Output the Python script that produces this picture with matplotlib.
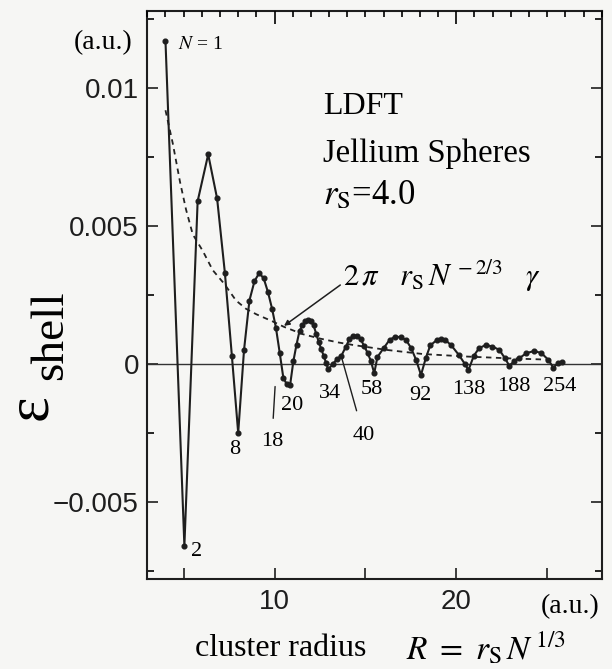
import matplotlib.pyplot as plt
import numpy as np
from matplotlib.ticker import FixedLocator, MultipleLocator, NullFormatter

plt.rcParams['font.family'] = 'Liberation Serif'
plt.rcParams['mathtext.fontset'] = 'stix'

rs = 4.0

# electron number N and shell energy
n_vals = [1, 2, 3, 4, 5, 6, 7, 8, 9, 10, 11, 12, 13, 14, 15, 16, 17, 18, 19, 20,
          21, 22, 23, 24, 25, 26, 27, 28, 29, 30, 31, 32, 33, 34,
          36, 38, 40, 42, 44, 46, 48, 50, 52, 54, 56, 58,
          60, 64, 68, 72, 76, 80, 84, 88, 92,
          96, 100, 106, 110, 114, 120, 128, 134, 138,
          144, 150, 158, 166, 175, 182, 188,
          195, 202, 212, 224, 235, 246, 254, 262, 268]
e_shell = [0.0117, -0.0066, 0.0059, 0.0076, 0.0060, 0.0033, 0.0003, -0.0025, 0.0005, 0.0023,
           0.0030, 0.0033, 0.0031, 0.0026, 0.0020, 0.0013, 0.0004, -0.0005, -0.00074, -0.00076,
           0.0001, 0.0007, 0.0012, 0.0014, 0.00155, 0.0016, 0.00155, 0.0014, 0.0011, 0.0008,
           0.00055, 0.0003, 0.00005, -0.0002,
           0.0000, 0.00018, 0.0003, 0.0006, 0.0009, 0.00103, 0.0010, 0.0009, 0.00065, 0.0004,
           0.0001, -0.00034,
           0.00025, 0.00057, 0.00087, 0.00099, 0.00097, 0.00087, 0.00057, 0.00014, -0.0004,
           0.0002, 0.00067, 0.00087, 0.0009, 0.00087, 0.00067, 0.00031, 0.0, -0.00022,
           0.0003, 0.00057, 0.00069, 0.00063, 0.00051, 0.00021, -0.00006,
           0.0001, 0.00021, 0.00039, 0.00047, 0.00039, 0.00015, -0.00013, 0.00002, 0.00008]

# dashed smooth trend
trend_R = [4.0, 4.4, 4.8, 5.13, 5.5, 6.05, 6.6, 7.24, 7.88, 8.43, 9.0, 9.9, 10.5,
           11.55, 12.5, 13.5, 14.3, 16.15, 18.15, 20.5, 23.0, 25.3]
trend_val = [0.0092, 0.0080, 0.0066, 0.0056, 0.0047, 0.0041, 0.0034, 0.0029, 0.0023,
             0.0020, 0.0018, 0.00154, 0.00135, 0.00108, 0.00092, 0.00078, 0.00069,
             0.00051, 0.00036, 0.00027, 0.0002, 0.00015]

# magic numbers labelled under the curve: (text, R, value)
magic_labels = [('2', 5.72, -0.0068), ('8', 7.83, -0.0031), ('20', 10.99, -0.00152),
                ('34', 13.06, -0.00107), ('58', 15.35, -0.00094), ('92', 18.0, -0.00113),
                ('138', 20.67, -0.00094), ('188', 23.14, -0.00082), ('254', 25.71, -0.00082)]

R = rs * np.array(n_vals) ** (1.0 / 3.0)

fig = plt.figure(figsize=(6.12, 6.69), dpi=100, facecolor='#f6f6f4')
ax = fig.add_axes([0.2407, 0.1345, 0.7425, 0.8491], facecolor='#f6f6f4')

ax.axhline(0, color='#333333', lw=1.0)
ax.plot(trend_R, trend_val, color='#222222', lw=1.3, ls=(0, (3, 2.5)))
ax.plot(R, e_shell, color='#1e1e1e', lw=1.5, marker='o', ms=3.4)

ax.set_xlim(3, 28)
ax.set_ylim(-0.0078, 0.0128)

# y axis
ax.yaxis.set_major_locator(FixedLocator([-0.005, 0, 0.005, 0.01]))
ax.yaxis.set_minor_locator(MultipleLocator(0.0025))
ax.set_yticklabels(['\u22120.005', '0', '0.005', '0.01'])
# x axis, bottom
ax.xaxis.set_major_locator(FixedLocator([5, 10, 15, 20, 25]))
ax.set_xticklabels(['', '10', '', '20', ''])
ax.tick_params(axis='both', which='major', direction='in', length=8, width=1.2,
               labelsize=20, right=True, top=False, colors='#1e1e1e')
ax.tick_params(axis='both', which='minor', direction='in', length=5, width=1.2,
               right=True, top=False)
ax.tick_params(axis='y', pad=6)
ax.tick_params(axis='x', pad=7)
for lab in ax.get_xticklabels() + ax.get_yticklabels():
    lab.set_family('Liberation Sans')
for sp in ax.spines.values():
    sp.set_linewidth(1.5)
    sp.set_color('#1e1e1e')

# top ticks every 1
ax2 = ax.twiny()
ax2.set_xlim(ax.get_xlim())
ax2.xaxis.set_major_locator(FixedLocator([10, 20]))
ax2.xaxis.set_minor_locator(MultipleLocator(1))
ax2.xaxis.set_major_formatter(NullFormatter())
ax2.tick_params(axis='x', which='major', direction='in', length=9, width=1.2)
ax2.tick_params(axis='x', which='minor', direction='in', length=4.5, width=1.2)
for sp in ax2.spines.values():
    sp.set_visible(False)

# text inside the panel
ax.text(12.65, 0.00933, 'LDFT', fontsize=23, va='center')
ax.text(12.65, 0.00762, 'Jellium Spheres', fontsize=23.5, va='center')
ax.text(12.65, 0.0061, r'$r_{\rm S}$=4.0', fontsize=25, va='center')
ax.text(4.69, 0.01158, r'$N$ = 1', fontsize=14, va='center')

ax.annotate(r'$2\,\pi\ \ \ r_{\rm S}\,N^{\,-2/3}\quad\gamma$', xy=(10.52, 0.00138),
            xytext=(13.77, 0.0032), fontsize=22, va='center',
            arrowprops=dict(arrowstyle='-|>', color='#1e1e1e', lw=1.1,
                            mutation_scale=8, shrinkA=0, shrinkB=0,
                            relpos=(0, 0.3)))

for txt, xr, yv in magic_labels:
    ax.text(xr, yv, txt, fontsize=16, ha='center', va='center')

ax.annotate('18', xy=(10.03, -0.00082), xytext=(9.85, -0.00282), fontsize=16,
            ha='center', va='center',
            arrowprops=dict(arrowstyle='-', color='#1e1e1e', lw=1.0,
                            shrinkA=8, shrinkB=0))
ax.annotate('40', xy=(13.70, 0.00021), xytext=(14.89, -0.00258), fontsize=16,
            ha='center', va='center',
            arrowprops=dict(arrowstyle='-', color='#1e1e1e', lw=1.0,
                            shrinkA=9, shrinkB=0))

# units and axis titles
fig.text(0.2173, 0.9357, '(a.u.)', fontsize=20, ha='right', va='center')
fig.text(0.980, 0.0927, '(a.u.)', fontsize=20, ha='right', va='center')
fig.text(0.3186, 0.031, 'cluster radius', fontsize=23, ha='left', va='center')
fig.text(0.925, 0.031, r'$R\ =\ r_{\rm S}\,N^{\,1/3}$', fontsize=24,
         ha='right', va='center')
fig.text(0.0755, 0.372, '\u03b5', fontsize=44, rotation=90, rotation_mode='anchor',
         ha='left', va='baseline')
fig.text(0.1013, 0.432, 'shell', fontsize=34, rotation=90, rotation_mode='anchor',
         ha='left', va='baseline')

fig.savefig('out.png', dpi=100, facecolor=fig.get_facecolor())
